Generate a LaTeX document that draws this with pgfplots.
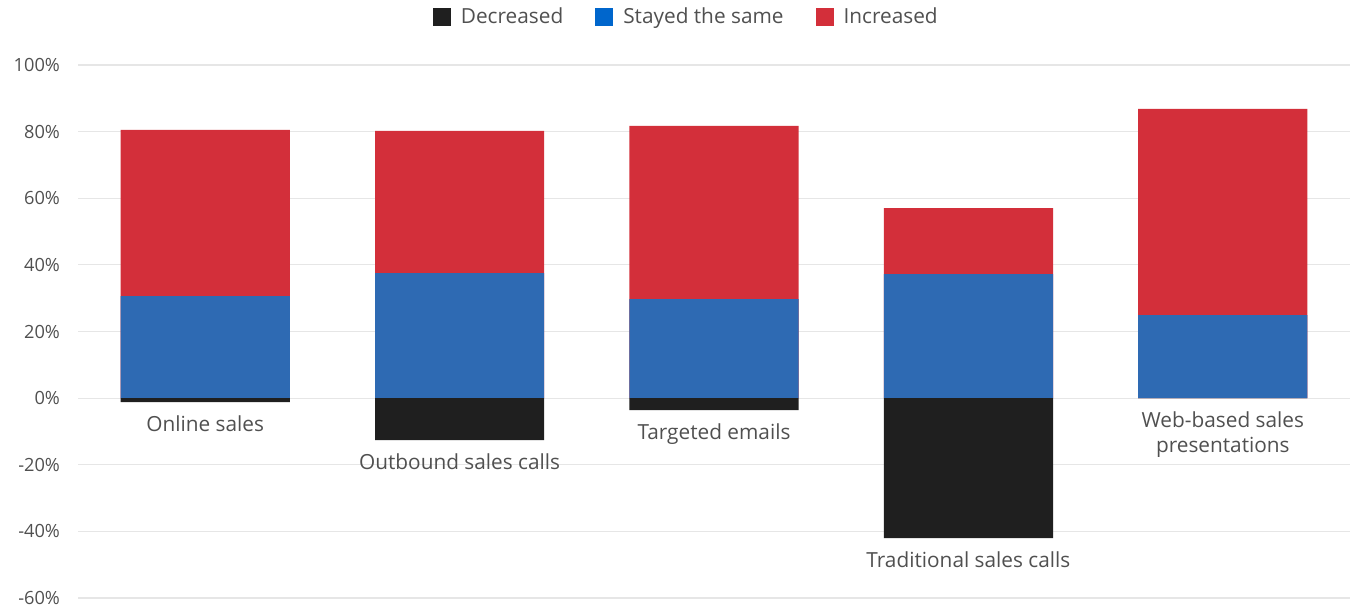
\documentclass[border=0pt]{standalone}
\usepackage{pgfplots}
\pgfplotsset{compat=1.18}
\usepackage{pgfplotstable}
\usepackage{fontspec}
\setmainfont{Open Sans}
\usetikzlibrary{calc}
\definecolor{cdec}{HTML}{1F1F1F}
\definecolor{csame}{HTML}{2E6AB3}
\definecolor{csameleg}{HTML}{0066CC}
\definecolor{cinc}{HTML}{D32F3A}
\definecolor{ctext}{HTML}{505050}
\definecolor{cgrid}{HTML}{E6E6E6}
\pgfplotstableread{
x dec same inc
0 -1.2 30.6 49.9
1 -12.6 37.5 42.7
2 -3.6 29.7 52.0
3 -42.0 37.2 19.8
4 0.0 24.9 61.9
}\datatable
\begin{document}
\begin{tikzpicture}
\begin{axis}[
  name=ax,
  scale only axis,
  width=636pt, height=266.5pt,
  xmin=-0.5, xmax=4.5,
  ymin=-60, ymax=100,
  ytick={-60,-40,-20,0,20,40,60,80,100},
  xtick=\empty,
  ymajorgrids,
  grid style={cgrid, line width=0.6pt},
  axis line style={draw=none},
  major tick length=0pt,
  ybar, bar shift=0pt, bar width=0.665,
  /pgf/number format/assume math mode=true,
  yticklabel={\pgfmathprintnumber{\tick}\%},
  yticklabel style={font=\fontsize{9.1}{11}\selectfont, text=ctext, xshift=-5.5pt},
  reverse legend,
  legend columns=3,
  legend style={draw=none, fill=none, at={(0.479,1)}, anchor=center, yshift=24pt,
    font=\fontsize{10.4}{13}\selectfont, text=ctext,
    /tikz/every odd column/.append style={column sep=3pt},
    /tikz/every even column/.append style={column sep=14pt}},
  legend image code/.code={\fill[#1] (0pt,-4.5pt) rectangle (9pt,4.5pt);},
]
\addplot[fill=cinc, draw=none] table[x=x, y expr=\thisrow{same}+\thisrow{inc}] {\datatable};
\addlegendentry{Increased}
\addplot[fill=csame, draw=none, legend image code/.code={\fill[csameleg] (0pt,-4.5pt) rectangle (9pt,4.5pt);}] table[x=x, y=same] {\datatable};
\addlegendentry{Stayed the same}
\addplot[fill=cdec, draw=none] table[x=x, y=dec] {\datatable};
\addlegendentry{Decreased}
\begin{scope}[every node/.style={anchor=north, inner sep=0pt, yshift=-6.5pt, text=ctext, font=\fontsize{10.4}{12.5}\selectfont, align=center}]
\node at (axis cs:0,-1.2) {Online sales};
\node at (axis cs:1,-12.6) {Outbound sales calls};
\node at (axis cs:2,-3.6) {Targeted emails};
\node at (axis cs:3,-42.0) {Traditional sales calls};
\node at (axis cs:4,0) {Web-based sales\\presentations};
\end{scope}
\end{axis}
\pgfresetboundingbox
\path ($(ax.south west)+(-39pt,-6pt)$) rectangle ($(ax.north east)+(2pt,32.5pt)$);
\end{tikzpicture}
\end{document}
